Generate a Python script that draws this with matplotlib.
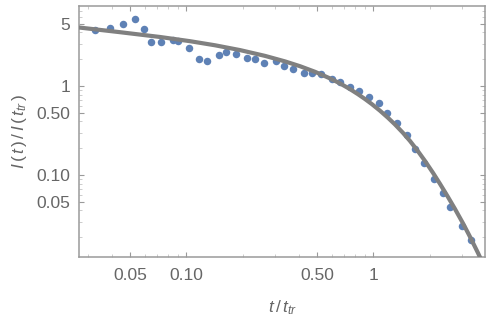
import matplotlib
matplotlib.use('Agg')
import matplotlib.pyplot as plt
from matplotlib.ticker import FixedLocator, FixedFormatter, LogLocator, NullFormatter

# measured points, t / t_tr and I(t) / I(t_tr)
t_data = [0.0325, 0.0389, 0.0461, 0.0530, 0.0596, 0.0648, 0.0730, 0.0852, 0.0906, 0.104,
          0.1174, 0.129, 0.1496, 0.1637, 0.1844, 0.211, 0.234, 0.2594, 0.302, 0.334,
          0.370, 0.426, 0.470, 0.525, 0.599, 0.666, 0.750, 0.842, 0.952, 1.073,
          1.191, 1.344, 1.52, 1.67, 1.874, 2.125, 2.35, 2.57, 2.97, 3.32]
i_data = [4.26, 4.45, 4.94, 5.70, 4.40, 3.10, 3.10, 3.31, 3.20, 2.66,
          2.01, 1.92, 2.23, 2.39, 2.31, 2.08, 2.00, 1.80, 1.91, 1.68,
          1.55, 1.41, 1.39, 1.35, 1.21, 1.10, 0.982, 0.885, 0.743, 0.636,
          0.497, 0.387, 0.281, 0.194, 0.135, 0.0890, 0.0633, 0.0441, 0.0267, 0.0186]

# fitted curve
t_fit = [0.02666, 0.04419, 0.07236, 0.1046, 0.1424, 0.1937, 0.2636, 0.3371, 0.4055,
         0.4879, 0.5869, 0.6637, 0.7505, 0.8282, 0.9029, 0.9841, 1.086, 1.198,
         1.306, 1.441, 1.571, 1.734, 1.890, 2.086, 2.274, 2.509, 2.735, 3.018,
         3.289, 3.629, 4.005]
i_fit = [4.542, 4.022, 3.553, 3.187, 2.867, 2.532, 2.179, 1.890, 1.669,
         1.444, 1.217, 1.070, 0.923, 0.809, 0.714, 0.6245, 0.528, 0.440,
         0.370, 0.298, 0.2416, 0.1851, 0.1440, 0.1059, 0.0796, 0.0567, 0.0416, 0.0287,
         0.0203, 0.01336, 0.00859]

x_ticks = [0.05, 0.1, 0.5, 1]
x_tick_labels = ['0.05', '0.10', '0.50', '1']
y_ticks = [0.05, 0.1, 0.5, 1, 5]
y_tick_labels = ['0.05', '0.10', '0.50', '1', '5']

plt.rcParams['font.family'] = ['Liberation Sans', 'DejaVu Sans']
plt.rcParams['mathtext.fontset'] = 'custom'
plt.rcParams['mathtext.rm'] = 'Liberation Sans'
plt.rcParams['mathtext.it'] = 'Liberation Sans:italic'

text_col = '#666666'
frame_col = '#9a9a9a'

fig = plt.figure(figsize=(4.93, 3.22), dpi=100)
ax = fig.add_axes([0.1609, 0.2028, 0.8229, 0.7786])

ax.plot(t_data, i_data, 'o', color='#5E81B5', ms=5.4, mec='none', zorder=2)
ax.plot(t_fit, i_fit, '-', color='#808080', lw=3.0, zorder=3,
        solid_capstyle='butt', solid_joinstyle='round')

ax.set_xscale('log')
ax.set_yscale('log')
ax.set_xlim(0.0268, 3.96)
ax.set_ylim(0.01208, 7.92)

ax.xaxis.set_major_locator(FixedLocator(x_ticks))
ax.xaxis.set_major_formatter(FixedFormatter(x_tick_labels))
ax.yaxis.set_major_locator(FixedLocator(y_ticks))
ax.yaxis.set_major_formatter(FixedFormatter(y_tick_labels))
ax.xaxis.set_minor_locator(LogLocator(base=10, subs=range(2, 10)))
ax.yaxis.set_minor_locator(LogLocator(base=10, subs=range(2, 10)))
ax.xaxis.set_minor_formatter(NullFormatter())
ax.yaxis.set_minor_formatter(NullFormatter())

for s in ax.spines.values():
    s.set_color(frame_col)
    s.set_linewidth(1.1)

ax.tick_params(which='both', direction='in', top=True, right=True, colors=frame_col,
               labelcolor=text_col, labelsize=12.5)
ax.tick_params(which='major', length=3.5, width=0.8)
ax.tick_params(which='minor', length=2.0, width=0.6, colors='#c4c4c4')
ax.tick_params(axis='y', which='major', pad=6.5)
ax.tick_params(axis='x', which='major', pad=8)

ax.set_xlabel(r'$t\,/\,t_{tr}$', color=text_col, fontsize=12.5, labelpad=11)
ax.set_ylabel(r'$I\,(\,t\,)\,/\,I\,(\,t_{tr}\,)$', color=text_col, fontsize=12.5, labelpad=5)

fig.savefig('out.png', dpi=100)
